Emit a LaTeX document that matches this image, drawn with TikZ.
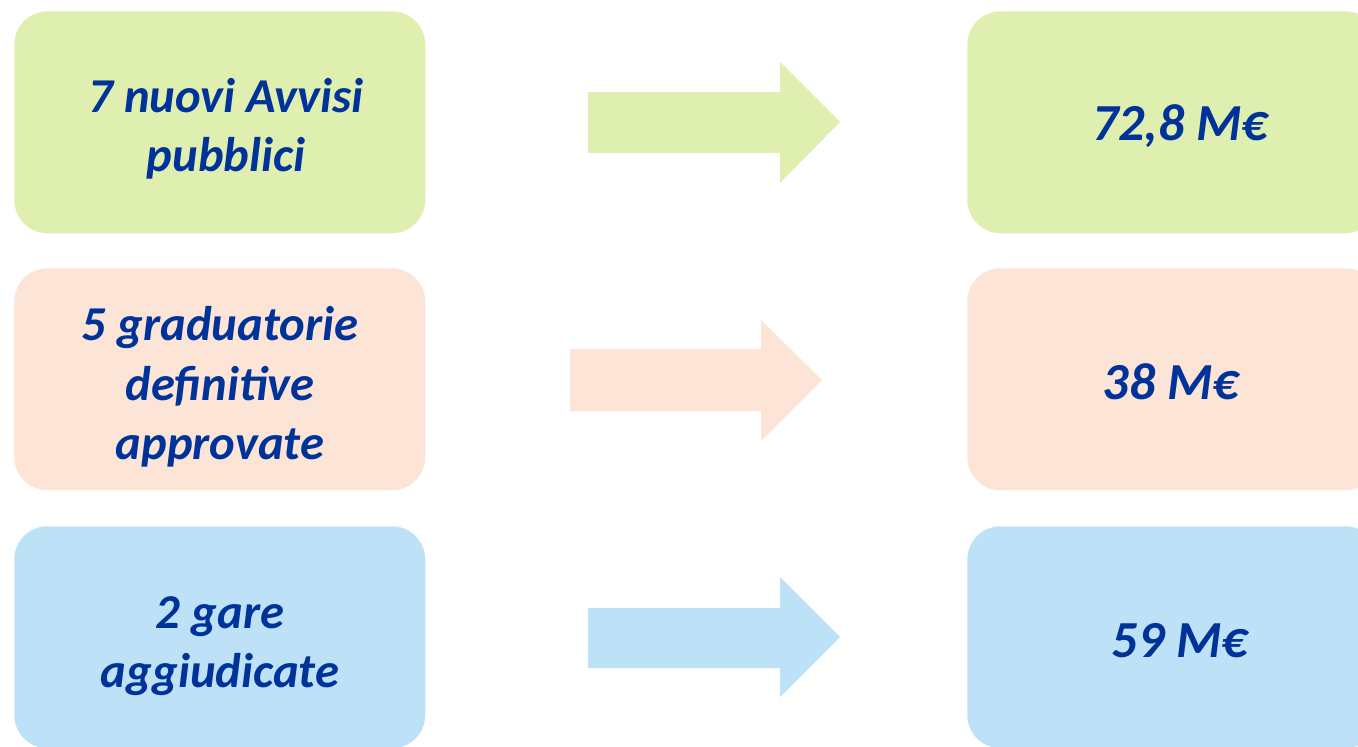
\documentclass[tikz,border=0pt]{standalone}
\usepackage{fontspec}
\setmainfont{Carlito}
\definecolor{gfill}{HTML}{DFEFB0}
\definecolor{pfill}{HTML}{FCE4D6}
\definecolor{bfill}{HTML}{BDE1F7}
\definecolor{txt}{HTML}{003399}
\tikzset{
  card/.style={fill=#1, draw=none, rounded corners=25pt, minimum width=308.25pt, minimum height=166.5pt, anchor=north west, inner sep=0pt},
  lbl/.style={text=txt, font=\fontsize{36.5}{44.5}\selectfont\bfseries\itshape, align=center, inner sep=0pt},
  val/.style={text=txt, font=\fontsize{39}{45}\selectfont\bfseries\itshape, align=center, inner sep=0pt},
}
\begin{document}
\begin{tikzpicture}[x=0.75pt,y=-0.75pt]
\useasboundingbox (0,0) rectangle (1358,746);
\clip (0,0) rectangle (1358,746);
% left cards
\node[card=gfill] (l1) at (14,11) {};
\node[card=pfill] (l2) at (14,268) {};
\node[card=bfill] (l3) at (14,526) {};
% right cards
\node[card=gfill] (r1) at (967,11) {};
\node[card=pfill] (r2) at (967,268) {};
\node[card=bfill] (r3) at (967,526) {};
% texts
\node[lbl] (t1) at (226,129) {7 nuovi Avvisi\\pubblici};
\node[lbl] (t2) at (220,387) {5 graduatorie\\definitive\\approvate};
\node[lbl] (t3) at (220,646) {2 gare\\aggiudicate};
\node[val] (v1) at (1180,126) {72,8 M€};
\node[val] (v2) at (1171,382) {38 M€};
\node[val] (v3) at (1180,641) {59 M€};
% arrows
\fill[gfill] (588,92) -- (780,92) -- (780,62) -- (840,122) -- (780,183) -- (780,153) -- (588,153) -- cycle;
\fill[pfill] (570,349) -- (761,349) -- (761,320) -- (822,380) -- (761,441) -- (761,411) -- (570,411) -- cycle;
\fill[bfill] (588,608) -- (780,608) -- (780,577) -- (840,637) -- (780,697) -- (780,668) -- (588,668) -- cycle;
\end{tikzpicture}
\end{document}
